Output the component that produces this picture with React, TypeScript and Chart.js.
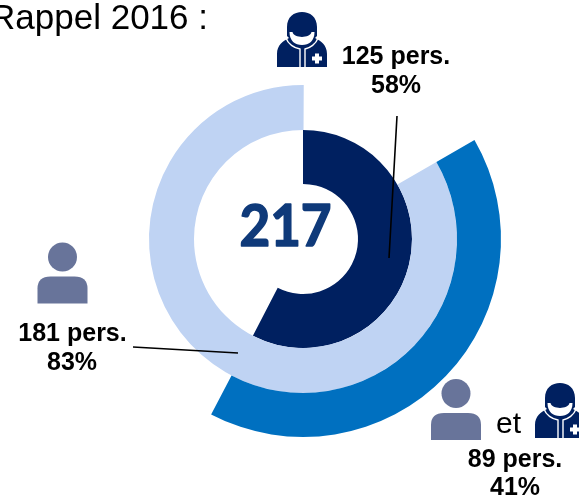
import React, { useEffect, useRef } from "react";
import { Chart, registerables } from "chart.js";

Chart.register(...registerables);

const total = 217;
const generalistOnly = 89; // "et" group, outer ring
const patients = 181; // middle ring
const doctors = 125; // inner ring
const ringLabels = ["Groupe", "Reste"];

const BLUE = "#0070C0";
const LIGHT = "#BFD3F3";
const NAVY = "#002060";
const PERSON = "#68749A";

const textFont = "bold 25px 'Liberation Sans', Arial, sans-serif";

function drawPerson(ctx: CanvasRenderingContext2D, x: number, y: number) {
  ctx.fillStyle = PERSON;
  ctx.beginPath();
  ctx.arc(x + 25, y + 14.5, 14.5, 0, Math.PI * 2);
  ctx.fill();
  ctx.beginPath();
  ctx.moveTo(x, y + 61);
  ctx.lineTo(x, y + 46);
  ctx.quadraticCurveTo(x, y + 34, x + 13, y + 34);
  ctx.lineTo(x + 37, y + 34);
  ctx.quadraticCurveTo(x + 50, y + 34, x + 50, y + 46);
  ctx.lineTo(x + 50, y + 61);
  ctx.closePath();
  ctx.fill();
}

function drawDoctor(ctx: CanvasRenderingContext2D, x: number, y: number) {
  ctx.save();
  ctx.translate(x, y);
  ctx.fillStyle = NAVY;
  ctx.fill(new Path2D("M0 55 L0 42 C0 33 6 29 12 26 L10 24 L10 15 C10 5 17 0 25 0 C33 0 40 5 40 15 L40 24 L38 26 C44 29 50 33 50 42 L50 55 Z"));
  ctx.fillStyle = "#ffffff";
  ctx.fill(new Path2D("M12.5 20 L15.5 20 C17 26.5 33 26.5 34.5 20 L37.5 20 C37.5 29 32 33 25 33 C18 33 12.5 29 12.5 20 Z"));
  ctx.strokeStyle = "#ffffff";
  ctx.lineWidth = 1.4;
  ctx.stroke(new Path2D("M9 26 C11 32 17 36 23 37 L23 55 M41 26 C39 32 33 36 28 37 L28 55"));
  ctx.fillRect(38, 41.5, 4, 10);
  ctx.fillRect(35, 44.5, 10, 4);
  ctx.restore();
}

const annotations = {
  id: "annotations",
  afterDraw(chart: Chart) {
    const ctx = chart.ctx;
    ctx.save();

    ctx.strokeStyle = "#000000";
    ctx.lineWidth = 1.6;
    ctx.beginPath();
    ctx.moveTo(397, 116);
    ctx.lineTo(389, 258);
    ctx.moveTo(133, 347);
    ctx.lineTo(238, 353);
    ctx.stroke();

    drawDoctor(ctx, 277, 12);
    drawDoctor(ctx, 535, 383);
    drawPerson(ctx, 37.5, 242.5);
    drawPerson(ctx, 431, 379);

    ctx.fillStyle = "#000000";
    ctx.font = "35px 'Liberation Sans', Arial, sans-serif";
    ctx.textAlign = "right";
    ctx.textBaseline = "alphabetic";
    ctx.fillText("Rappel 2016 :", 208, 29);

    ctx.font = "30px 'Liberation Sans', Arial, sans-serif";
    ctx.textAlign = "left";
    ctx.fillText("et", 496, 433);

    ctx.font = textFont;
    ctx.textAlign = "center";
    ctx.fillText("125 pers.", 396, 64);
    ctx.fillText("58%", 396, 93);
    ctx.fillText("181 pers.", 72.5, 341);
    ctx.fillText("83%", 72, 370);
    ctx.fillText("89 pers.", 515, 467);
    ctx.fillText("41%", 515, 495);

    ctx.fillStyle = "#0F3A7A";
    ctx.strokeStyle = "#0F3A7A";
    ctx.lineWidth = 1.6;
    ctx.lineJoin = "round";
    ctx.font = "bold 57px Lato, sans-serif";
    ctx.translate(285.5, 245.5);
    ctx.scale(0.93, 1);
    ctx.fillText(String(total), 0, 0);
    ctx.strokeText(String(total), 0, 0);
    ctx.restore();
  },
};

export default function App() {
  const ref = useRef<HTMLCanvasElement>(null);
  useEffect(() => {
    if (!ref.current) return;
    const chart = new Chart(ref.current, {
      type: "doughnut",
      data: {
        labels: ringLabels,
        datasets: [
          { data: [generalistOnly, total - generalistOnly], backgroundColor: [BLUE, "rgba(0,0,0,0)"], borderWidth: 0, rotation: 60, weight: 44 },
          { data: [patients, total - patients], backgroundColor: [LIGHT, "rgba(0,0,0,0)"], borderWidth: 0, rotation: 60, weight: 45 },
          { data: [doctors, total - doctors], backgroundColor: [NAVY, "rgba(0,0,0,0)"], borderWidth: 0, rotation: 0, weight: 54 },
        ],
      } as any,
      options: {
        responsive: false,
        animation: false,
        cutout: 55,
        layout: { padding: { left: 105, right: 78, top: 41, bottom: 61 } },
        plugins: { legend: { display: false }, tooltip: { enabled: false } },
      } as any,
      plugins: [annotations],
    });
    return () => chart.destroy();
  }, []);
  return (
    <div style={{ position: "fixed", left: 0, top: 0, width: 579, height: 498, overflow: "hidden", background: "#fff" }}>
      <canvas ref={ref} width={579} height={498} style={{ display: "block" }} />
    </div>
  );
}
